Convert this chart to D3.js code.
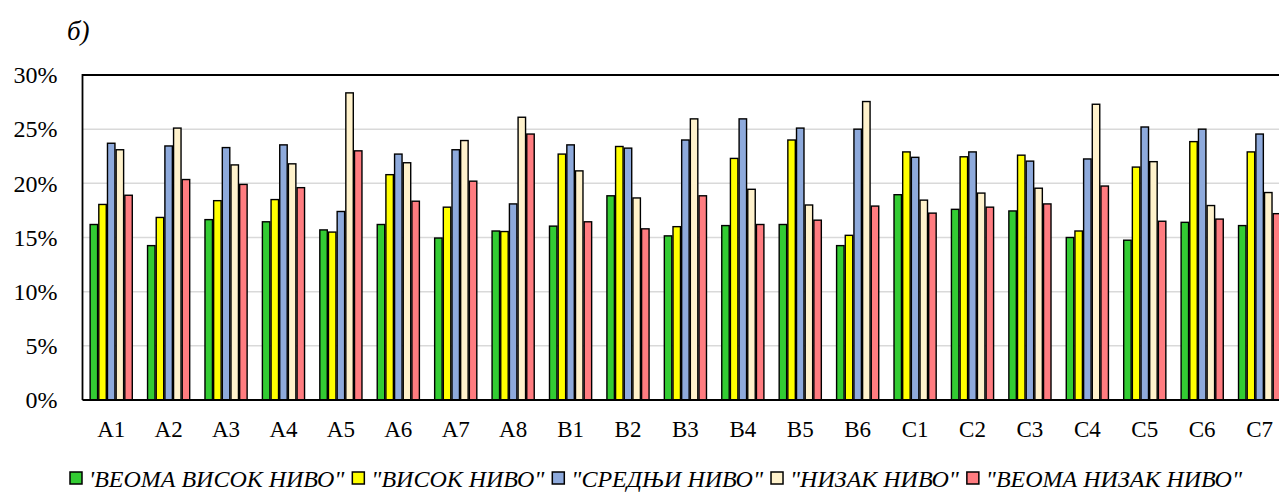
<!DOCTYPE html>
<html><head><meta charset="utf-8">
<script src="https://cdn.jsdelivr.net/npm/d3@7"></script>
<style>
html,body{margin:0;padding:0;background:#fff;overflow:hidden}
svg text{font-family:"Liberation Serif","Times New Roman",Times,"DejaVu Serif",serif !important}
</style></head><body>
<svg id="chart" width="1279" height="492"></svg>
<script>
const categories = ["A1","A2","A3","A4","A5","A6","A7","A8","B1","B2","B3","B4","B5","B6","C1","C2","C3","C4","C5","C6","C7"];
const seriesNames = ["'ВЕОМА ВИСОК НИВО\"", "\"ВИСОК НИВО\"", "\"СРЕДЊИ НИВО\"", "\"НИЗАК НИВО\"", "\"ВЕОМА НИЗАК НИВО\""];
const seriesColors = ["#33cc33", "#ffff00", "#8eaadc", "#fff2cc", "#ff7c80"];
const veomaVisok = [16.2,14.25,16.65,16.45,15.7,16.2,14.95,15.6,16.05,18.85,15.15,16.1,16.2,14.25,18.95,17.6,17.45,15.0,14.75,16.4,16.1];
const visok      = [18.05,16.85,18.4,18.5,15.5,20.8,17.8,15.55,22.7,23.4,16.0,22.3,24.0,15.2,22.9,22.45,22.6,15.6,21.5,23.85,22.9];
const srednji    = [23.7,23.45,23.3,23.55,17.4,22.7,23.1,18.1,23.55,23.25,24.0,25.95,25.1,25.0,22.4,22.9,22.05,22.25,25.2,25.0,24.55];
const nizak      = [23.1,25.1,21.7,21.8,28.35,21.9,23.95,26.1,21.15,18.65,25.95,19.45,18.0,27.55,18.45,19.1,19.55,27.3,22.0,17.95,19.15];
const veomaNizak = [18.9,20.35,19.9,19.6,23.0,18.35,20.2,24.55,16.45,15.8,18.85,16.2,16.6,17.9,17.25,17.8,18.1,19.75,16.5,16.7,17.2];
const yTicks = [0,5,10,15,20,25,30];

const series = [veomaVisok, visok, srednji, nizak, veomaNizak];
const svg = d3.select("#chart");
const L = 82.5, T = 75, B = 400, R = L + 21*57.42;

const x = d3.scaleBand().domain(categories).range([L, R]).padding(0);
const y = d3.scaleLinear().domain([0,30]).range([B, T]);
const groupW = x.bandwidth()*0.755;
const xs = d3.scaleBand().domain(d3.range(5)).range([0, groupW]).padding(0);

svg.append("g").selectAll("line").data(yTicks.filter(d=>d>0 && d<30)).join("line")
  .attr("x1", L).attr("x2", R).attr("y1", d=>y(d)).attr("y2", d=>y(d))
  .attr("stroke", "#d9d9d9").attr("stroke-width", 1.5);

const gBars = svg.append("g");
series.forEach((vals, si) => {
  gBars.append("g").selectAll("rect").data(vals).join("rect")
    .attr("x", (d,i)=> x(categories[i]) + (x.bandwidth()-groupW)/2 + xs(si) + 0.6)
    .attr("width", xs.bandwidth() - 1.2)
    .attr("y", d=>y(d))
    .attr("height", d=>B - y(d))
    .attr("fill", seriesColors[si])
    .attr("stroke", "#000").attr("stroke-width", 1.4);
});

svg.append("path").attr("d", `M${L},${B}V${T}H${R}V${B}`).attr("fill","none").attr("stroke","#000").attr("stroke-width",1.8);
svg.append("line").attr("x1",L).attr("x2",R).attr("y1",B).attr("y2",B).attr("stroke","#000").attr("stroke-width",1.8);

const yAxis = d3.axisLeft(y).tickValues(yTicks).tickFormat(d=>d+"%").tickSize(0).tickPadding(25);
const ya = svg.append("g").attr("transform",`translate(${L},0)`).call(yAxis);
ya.attr("font-family", null);
ya.select(".domain").remove();
ya.selectAll("text").attr("font-size",24).attr("fill","#000");

const xAxis = d3.axisBottom(x).tickSize(0).tickPadding(21);
const xa = svg.append("g").attr("transform",`translate(0,${B})`).call(xAxis);
xa.attr("font-family", null);
xa.select(".domain").remove();
xa.selectAll("text").attr("font-size",23).attr("fill","#000");

svg.append("text").attr("x",67).attr("y",40).attr("font-style","italic").attr("font-size",27).text("б)");

const lg = svg.append("g");
let cx = 70;
const lb = 487;
seriesNames.forEach((name, i) => {
  lg.append("rect").attr("x", cx).attr("y", lb-15).attr("width", 12).attr("height", 12)
    .attr("fill", seriesColors[i]).attr("stroke","#000").attr("stroke-width",1.5);
  const t = lg.append("text").attr("x", cx+19).attr("y", lb).attr("font-style","italic")
    .attr("font-size",24).attr("fill","#000").text(name);
  cx += 19 + t.node().getComputedTextLength() + 8;
});
</script>
</body></html>
